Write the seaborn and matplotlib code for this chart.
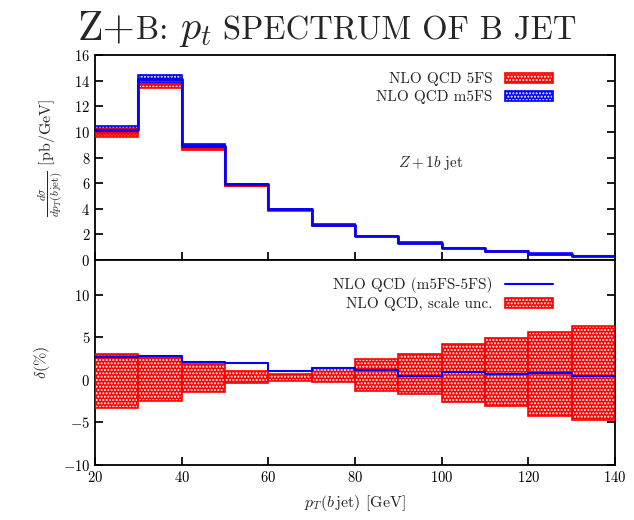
import numpy as np
import pandas as pd
import matplotlib
matplotlib.use("Agg")
import matplotlib.pyplot as plt
from matplotlib.patches import Patch
from matplotlib.lines import Line2D
import seaborn as sns

# ---------------- data ----------------
edges = [20, 30, 40, 50, 60, 70, 80, 90, 100, 110, 120, 130, 140]

# top panel: d sigma / d pT  [pb/GeV]
nlo5_central = [9.9, 13.7, 8.7, 5.8, 3.9, 2.72, 1.86, 1.33, 0.93, 0.67, 0.49, 0.33]
nlo5_lo      = [9.6, 13.4, 8.55, 5.74, 3.86, 2.69, 1.84, 1.31, 0.92, 0.66, 0.48, 0.32]
nlo5_hi      = [10.2, 14.0, 8.85, 5.86, 3.94, 2.75, 1.88, 1.35, 0.95, 0.69, 0.50, 0.34]
m5_central   = [10.15, 14.1, 8.9, 5.9, 3.95, 2.76, 1.88, 1.35, 0.94, 0.68, 0.50, 0.34]
m5_lo        = [9.9, 13.85, 8.75, 5.84, 3.91, 2.73, 1.86, 1.33, 0.93, 0.67, 0.49, 0.33]
m5_hi        = [10.45, 14.45, 9.05, 5.96, 3.98, 2.78, 1.90, 1.37, 0.96, 0.70, 0.51, 0.35]

# bottom panel: delta (%)
diff_m5_5    = [2.68, 2.83, 2.1, 2.05, 1.0, 1.45, 1.2, 0.5, 0.95, 0.67, 0.87, 0.5]
scale_lo     = [-3.3, -2.48, -1.38, -0.31, -0.08, -0.24, -1.3, -1.69, -2.64, -3.07, -4.2, -4.72]
scale_hi     = [3.07, 2.68, 1.9, 1.06, 0.71, 1.42, 2.44, 3.03, 4.2, 4.88, 5.63, 6.34]

labels_top = ["NLO QCD 5FS", "NLO QCD m5FS"]
labels_bot = ["NLO QCD (m5FS-5FS)", "NLO QCD, scale unc."]
title_parts = ["Z+", "B: ", r"$p_t$", " SPECTRUM OF B JET"]

# ---------------- style ----------------
sns.set_theme(style="ticks")
plt.rcParams.update({
    "font.family": ["cmr10", "DejaVu Serif"],
    "mathtext.fontset": "cm",
    "axes.formatter.use_mathtext": True,
    "hatch.linewidth": 1.0,
    "axes.linewidth": 1.3,
    "xtick.direction": "in",
    "ytick.direction": "in",
    "xtick.major.size": 6,
    "ytick.major.size": 6,
    "xtick.color": "black",
    "ytick.color": "black",
    "axes.edgecolor": "black",
})

RED = "#ff0000"
BLUE = "#0000ff"
HATCH = "....."

fig = plt.figure(figsize=(6.34, 5.2), dpi=100)
ax1 = fig.add_axes([95 / 634, 0.5, 520 / 634, 205 / 520])
ax2 = fig.add_axes([95 / 634, 55 / 520, 520 / 634, 205 / 520])

left = edges[:-1]


def band(ax, lo, hi, color):
    lo = np.asarray(lo)
    hi = np.asarray(hi)
    ax.bar(left, hi - lo, bottom=lo, width=10, align="edge", facecolor=color,
           edgecolor="white", hatch=HATCH, linewidth=0, zorder=2)
    ax.bar(left, hi - lo, bottom=lo, width=10, align="edge", facecolor="none",
           edgecolor=color, linewidth=1.2, zorder=3)


def step(ax, vals, color, lw):
    df = pd.DataFrame({"x": edges, "y": list(vals) + [vals[-1]]})
    sns.lineplot(data=df, x="x", y="y", ax=ax, color=color, linewidth=lw,
                 drawstyle="steps-post", zorder=4, estimator=None, sort=False)


leg_kw = dict(loc="upper right", frameon=False, markerfirst=False, fontsize=11,
              handlelength=3.15, handleheight=0.7, borderaxespad=0, borderpad=0,
              labelspacing=0.25, handletextpad=0.8,
              bbox_to_anchor=(0.881, 0.915))

# ---- top panel ----
band(ax1, nlo5_lo, nlo5_hi, RED)
band(ax1, m5_lo, m5_hi, BLUE)
step(ax1, nlo5_central, RED, 1.5)
step(ax1, m5_central, BLUE, 2.0)
ax1.set_xlim(20, 140)
ax1.set_ylim(0, 16)
ax1.set_yticks(np.arange(0, 17, 2))
ax1.set_xticks(np.arange(20, 141, 20))
ax1.tick_params(labelbottom=False, right=True, labelsize=10.5)
ax1.set_xlabel("")
ax1.set_ylabel(r"$\frac{d\sigma}{dp_T(b\,\mathrm{jet})}$ [pb/GeV]", fontsize=11.5, labelpad=6)
ax1.text(97.5, 7.6, r"$Z+1b$ jet", fontsize=11, ha="center", va="center")

h_red = (Patch(facecolor=RED, edgecolor="white", hatch=HATCH, linewidth=0),
         Patch(facecolor="none", edgecolor=RED, linewidth=1.2))
h_blue = (Patch(facecolor=BLUE, edgecolor="white", hatch=HATCH, linewidth=0),
          Patch(facecolor="none", edgecolor=BLUE, linewidth=1.2))
ax1.legend([h_red, h_blue], labels_top, **leg_kw)

# ---- bottom panel ----
band(ax2, scale_lo, scale_hi, RED)
step(ax2, diff_m5_5, BLUE, 1.5)
ax2.set_xlim(20, 140)
ax2.set_ylim(-10, 14.1)
ax2.set_yticks([-10, -5, 0, 5, 10])
ax2.set_xticks(np.arange(20, 141, 20))
ax2.tick_params(right=True, labelsize=10.5)
ax2.set_xlabel(r"$p_T(b\,\mathrm{jet})$ [GeV]", fontsize=11.5, labelpad=6)
ax2.set_ylabel(r"$\delta(\%)$", fontsize=11.5, labelpad=8)

h_line = Line2D([], [], color=BLUE, linewidth=1.5)
ax2.legend([h_line, h_red], labels_bot, **leg_kw)

# ---- title (small-caps imitation, pieces chained along the baseline) ----
ybase = 1 - 39 / 520
sizes = [30, 23.5, 29, 23.5]
prev = None
for txt, fs in zip(title_parts, sizes):
    if prev is None:
        prev = ax1.annotate(txt, xy=(78 / 634, ybase), xycoords="figure fraction",
                            fontsize=fs, va="baseline", ha="left", annotation_clip=False)
    else:
        prev = ax1.annotate(txt, xy=(1, ybase), xycoords=(prev, "figure fraction"),
                            fontsize=fs, va="baseline", ha="left", annotation_clip=False)

fig.savefig("out.png", dpi=100)
